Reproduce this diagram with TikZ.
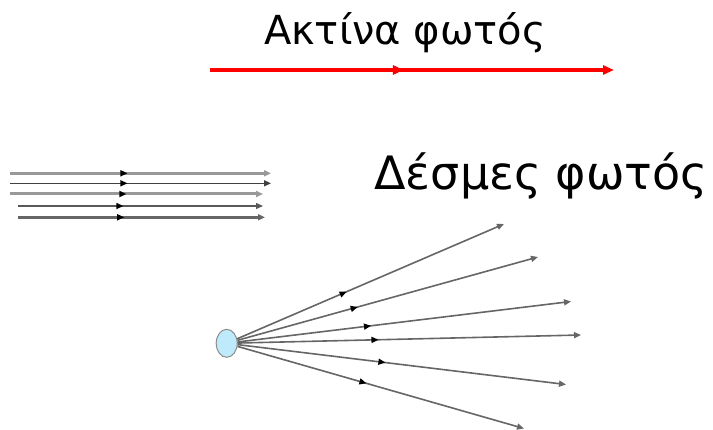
\documentclass[tikz,border=0pt]{standalone}
\usepackage{fontspec}
\setmainfont{DejaVu Sans}
\usetikzlibrary{arrows.meta,decorations.markings,shapes.geometric}
\begin{document}
\begin{tikzpicture}[x=1pt,y=-1pt,
  redray/.style={draw=red,line width=3.2pt,-{Triangle[length=11pt,width=9pt]},
    postaction={decorate,decoration={markings,mark=at position #1 with {\arrow{Triangle[length=11pt,width=9pt]}}}}},
  parray/.style={-{Triangle[length=7pt,width=6pt]},
    postaction={decorate,decoration={markings,mark=at position #1 with {\arrow[black]{Triangle[length=7pt,width=6pt]}}}}},
  fanray/.style={draw=black!60,line width=1.6pt,-{Triangle[length=7pt,width=6pt]},
    postaction={decorate,decoration={markings,mark=at position #1 with {\arrow[black]{Triangle[length=7pt,width=6pt]}}}}},
  src/.style={ellipse,draw=black!45,fill=cyan!25!white,minimum width=21pt,minimum height=28pt,inner sep=0pt,line width=1pt}
]
\useasboundingbox (0,0) rectangle (713,430);

% titles
\node[anchor=base,font=\fontsize{40}{46}\selectfont] (t1) at (405,45) {Ακτίνα φωτός};
\node[anchor=base,font=\fontsize{46}{52}\selectfont] (t2) at (541,190) {Δέσμες φωτός};

% red ray
\coordinate (r0) at (210,70);
\coordinate (r1) at (614,70);
\draw[redray=0.48] (r0) -- (r1);

% parallel beam
\coordinate (p1a) at (10,173.3); \coordinate (p1b) at (271,173.3);
\coordinate (p2a) at (10,183.3); \coordinate (p2b) at (271,183.3);
\coordinate (p3a) at (10,194);   \coordinate (p3b) at (263,194);
\coordinate (p4a) at (18,206);   \coordinate (p4b) at (263,206);
\coordinate (p5a) at (18,217.3); \coordinate (p5b) at (265,217.3);
\draw[parray=0.45,draw=black!40,line width=3.2pt] (p1a) -- (p1b);
\draw[parray=0.45,draw=black!75,line width=1.4pt] (p2a) -- (p2b);
\draw[parray=0.46,draw=black!40,line width=3pt] (p3a) -- (p3b);
\draw[parray=0.43,draw=black!65,line width=1.4pt] (p4a) -- (p4b);
\draw[parray=0.43,draw=black!60,line width=3pt] (p5a) -- (p5b);

% diverging beam
\node[src] (s) at (226.7,343.3) {};
\coordinate (e1) at (504,224);
\coordinate (e2) at (538,257);
\coordinate (e3) at (571,301.5);
\coordinate (e4) at (581,335);
\coordinate (e5) at (566,384.5);
\coordinate (e6) at (524,428.5);
\draw[fanray=0.41] (s) -- (e1);
\draw[fanray=0.40] (s) -- (e2);
\draw[fanray=0.40] (s) -- (e3);
\draw[fanray=0.41] (s) -- (e4);
\draw[fanray=0.45] (s) -- (e5);
\draw[fanray=0.45] (s) -- (e6);
\end{tikzpicture}
\end{document}
